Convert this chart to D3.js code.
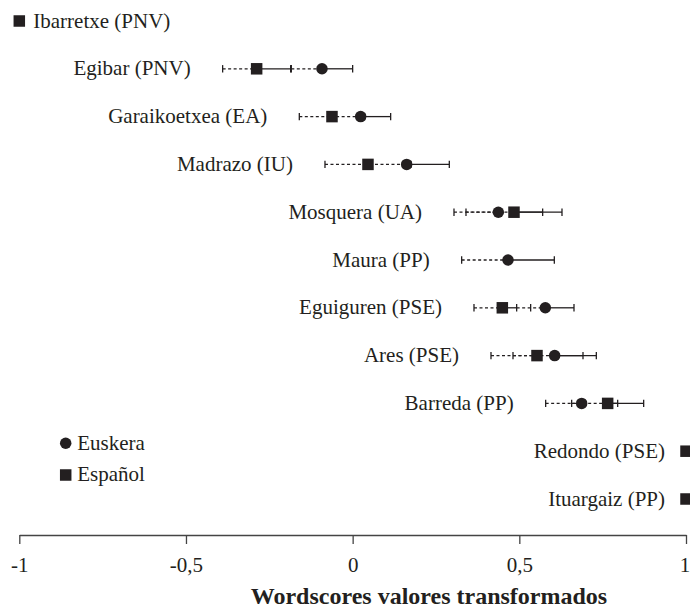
<!DOCTYPE html>
<html>
<head>
<meta charset="utf-8">
<script src="https://cdn.jsdelivr.net/npm/d3@7"></script>
<style>
	body { margin: 0; background: #fff; }
	svg text { font-family: "Liberation Serif", "DejaVu Serif", "Times New Roman", serif; fill: #231f20; }
</style>
</head>
<body>
<div id="chart"></div>
<script>

// candidates, top to bottom
var candidates = ['Ibarretxe (PNV)', 'Egibar (PNV)', 'Garaikoetxea (EA)', 'Madrazo (IU)',
	'Mosquera (UA)', 'Maura (PP)', 'Eguiguren (PSE)', 'Ares (PSE)', 'Barreda (PP)',
	'Redondo (PSE)', 'Ituargaiz (PP)'];

// transformed wordscores and half width of the interval, null = no value
var euskera = [null, -0.092, 0.024, 0.162, 0.437, 0.466, 0.578, 0.606, 0.687, null, null];
var euskeraError = [null, 0.092, 0.090, 0.128, 0.133, 0.139, 0.086, 0.125, 0.108, null, null];
var espanol = [-1, -0.288, -0.062, 0.046, 0.484, null, 0.449, 0.553, 0.765, 1, 1];
var espanolError = [0, 0.102, 0.098, 0.129, 0.144, null, 0.085, 0.138, 0.108, 0, 0];

var xTicks = [-1, -0.5, 0, 0.5, 1];
var xTickLabels = ['-1', '-0,5', '0', '0,5', '1'];

var width = 690;
var height = 613;
var ink = '#231f20';
var serif = '"Liberation Serif", "DejaVu Serif", "Times New Roman", serif';
var capHalf = 3.7;
var markerSize = 11.5;

var svg = d3.select('#chart')
	.append('svg')
	.attr('width', width)
	.attr('height', height)
	.attr('font-family', serif);

var x = d3.scaleLinear().domain([-1, 1]).range([19.3, 686]);
var y = d3.scalePoint().domain(candidates).range([21, 499]);

// one record per candidate and language
var rows = candidates.map(function(name, i) {
	var series = [];
	if(euskera[i] !== null)
		series.push({ lang: 'eus', value: euskera[i], err: euskeraError[i] || 0 });
	if(espanol[i] !== null)
		series.push({ lang: 'esp', value: espanol[i], err: espanolError[i] || 0 });
	return { name: name, series: series };
});

var bars = [];
rows.forEach(function(r) {
	r.series.forEach(function(s) {
		if(s.err > 0)
			bars.push({ name: r.name, value: s.value, lo: s.value - s.err, hi: s.value + s.err });
	});
});

var g = svg.append('g');

// upper half of each interval: solid
g.selectAll('line.upper')
	.data(bars)
	.enter()
	.append('line')
	.attr('class', 'upper')
	.attr('x1', function(d) { return x(d.value); })
	.attr('x2', function(d) { return x(d.hi); })
	.attr('y1', function(d) { return y(d.name); })
	.attr('y2', function(d) { return y(d.name); })
	.attr('stroke', ink)
	.attr('stroke-width', 1.3);

// lower half: dashed, drawn over a white line so it hides what lies below
g.selectAll('line.lowerBg')
	.data(bars)
	.enter()
	.append('line')
	.attr('class', 'lowerBg')
	.attr('x1', function(d) { return x(d.lo); })
	.attr('x2', function(d) { return x(d.value); })
	.attr('y1', function(d) { return y(d.name); })
	.attr('y2', function(d) { return y(d.name); })
	.attr('stroke', '#fff')
	.attr('stroke-width', 3);

g.selectAll('line.lower')
	.data(bars)
	.enter()
	.append('line')
	.attr('class', 'lower')
	.attr('x1', function(d) { return x(d.lo); })
	.attr('x2', function(d) { return x(d.value); })
	.attr('y1', function(d) { return y(d.name); })
	.attr('y2', function(d) { return y(d.name); })
	.attr('stroke', ink)
	.attr('stroke-width', 1.3)
	.attr('stroke-dasharray', '3,2.5');

// caps at both ends
var caps = [];
bars.forEach(function(b) {
	caps.push({ name: b.name, v: b.lo });
	caps.push({ name: b.name, v: b.hi });
});
g.selectAll('line.cap')
	.data(caps)
	.enter()
	.append('line')
	.attr('class', 'cap')
	.attr('x1', function(d) { return x(d.v); })
	.attr('x2', function(d) { return x(d.v); })
	.attr('y1', function(d) { return y(d.name) - capHalf; })
	.attr('y2', function(d) { return y(d.name) + capHalf; })
	.attr('stroke', ink)
	.attr('stroke-width', 1.3);

// markers
var points = [];
rows.forEach(function(r) {
	r.series.forEach(function(s) {
		points.push({ name: r.name, lang: s.lang, value: s.value });
	});
});

g.selectAll('circle.eus')
	.data(points.filter(function(d) { return d.lang === 'eus'; }))
	.enter()
	.append('circle')
	.attr('class', 'eus')
	.attr('cx', function(d) { return x(d.value); })
	.attr('cy', function(d) { return y(d.name); })
	.attr('r', markerSize / 2)
	.attr('fill', ink);

g.selectAll('rect.esp')
	.data(points.filter(function(d) { return d.lang === 'esp'; }))
	.enter()
	.append('rect')
	.attr('class', 'esp')
	.attr('x', function(d) { return x(d.value) - markerSize / 2; })
	.attr('y', function(d) { return y(d.name) - markerSize / 2; })
	.attr('width', markerSize)
	.attr('height', markerSize)
	.attr('fill', ink);

// candidate labels: left of the leftmost mark, or right of it at the left edge
function lowest(d) {
	return d3.min(d.series, function(s) { return s.value - s.err; });
}

g.selectAll('text.label')
	.data(rows)
	.enter()
	.append('text')
	.attr('class', 'label')
	.attr('font-size', 21)
	.attr('y', function(d) { return y(d.name) + 6.5; })
	.attr('x', function(d) {
		var lo = lowest(d);
		var hasBar = d.series.some(function(s) { return s.err > 0; });
		if(lo <= -1)
			return x(lo) + 14;
		return x(lo) - (hasBar ? 32 : 21);
	})
	.attr('text-anchor', function(d) { return lowest(d) <= -1 ? 'start' : 'end'; })
	.text(function(d) { return d.name; });

// legend
var legend = svg.append('g').attr('transform', 'translate(65.7,443.3)');
legend.append('circle').attr('r', markerSize / 2).attr('fill', ink);
legend.append('text').attr('x', 11.6).attr('y', 6.5).attr('font-size', 21).text('Euskera');
legend.append('rect')
	.attr('x', -markerSize / 2).attr('y', 31.7 - markerSize / 2)
	.attr('width', markerSize).attr('height', markerSize)
	.attr('fill', ink);
legend.append('text').attr('x', 11.6).attr('y', 31.7 + 6.5).attr('font-size', 21).text('Español');

// x axis
var axis = d3.axisBottom(x)
	.tickValues(xTicks)
	.tickFormat(function(d, i) { return xTickLabels[i]; })
	.tickSize(9)
	.tickSizeOuter(0);

var axisG = svg.append('g')
	.attr('transform', 'translate(0,535)')
	.call(axis);
axisG.attr('font-family', serif);
axisG.select('.domain').attr('stroke', '#444').attr('stroke-width', 1.3);
axisG.selectAll('.tick line').attr('stroke', '#444').attr('stroke-width', 1.3);
axisG.selectAll('.tick text')
	.attr('y', 22)
	.attr('font-size', 21)
	.attr('fill', ink)
	.attr('dx', function(d, i) { return i === xTicks.length - 1 ? -1.5 : 0; });

svg.append('text')
	.attr('x', 429)
	.attr('y', 604)
	.attr('text-anchor', 'middle')
	.attr('font-size', 24)
	.attr('font-weight', 'bold')
	.text('Wordscores valores transformados');

</script>
</body>
</html>
